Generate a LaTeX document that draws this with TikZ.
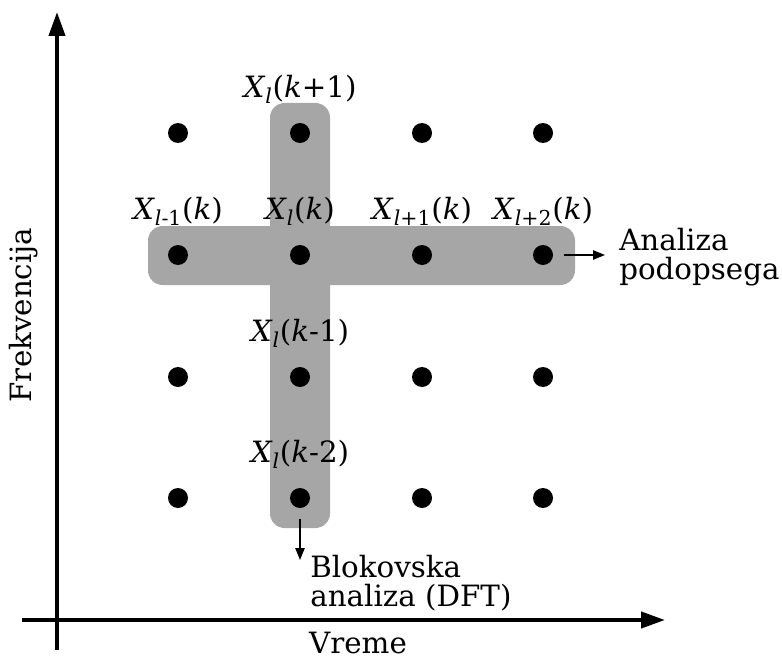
\documentclass[tikz,border=0pt]{standalone}
\usepackage{fontspec}
\setmainfont{DejaVu Serif}
\usetikzlibrary{positioning, arrows.meta, calc}

\newcommand{\Xlab}[2]{\textit{X}\textsubscript{\textit{l}#1}(\textit{k}#2)}

\begin{document}
\begin{tikzpicture}[x=0.75pt, y=-0.75pt,
  every node/.style={font=\fontsize{22}{22}\selectfont},
  dot/.style  = {circle, fill=black, inner sep=0pt, minimum size=15pt},
  lbl/.style  = {inner sep=1pt},
  note/.style = {align=left, inner sep=0pt},
  band/.style = {fill=black!35, rounded corners=11pt},
  axis/.style = {-{Triangle[length=18pt, width=12pt]}, line width=3pt},
  arr/.style  = {-{Triangle[length=9pt, width=7pt]}, line width=1.1pt},
]
  \useasboundingbox (0,0) rectangle (782,660);

  \fill[band] (148,226) rectangle (575,285);
  \fill[band] (270,103) rectangle (330,528);

  \foreach \c/\x in {1/178,2/300,3/422,4/543}
    \foreach \r/\y in {1/133,2/255,3/377,4/498}
      \node[dot] (d\c\r) at (\x,\y) {};

  \node[lbl, above=13pt of d21] (x21) {\Xlab{}{+1}};
  \node[lbl, above=13pt of d12] (x12) {\Xlab{-1}{}};
  \node[lbl, above=13pt of d22] (x22) {\Xlab{}{}};
  \node[lbl, above=13pt of d32] (x32) {\Xlab{+1}{}};
  \node[lbl, above=13pt of d42] (x42) {\Xlab{+2}{}};
  \node[lbl, above=13pt of d23] (x23) {\Xlab{}{-1}};
  \node[lbl, above=13pt of d24] (x24) {\Xlab{}{-2}};

  \node[note, anchor=west] (ana) at (619,257) {Analiza\\podopsega};
  \node[note, anchor=north west] (blk) at (310,555) {Blokovska\\analiza (DFT)};
  \coordinate (anatip) at (605,255);
  \coordinate (blktip) at (300,560);
  \draw[arr, shorten <=8pt] (d42.east) -- (anatip);
  \draw[arr, shorten <=8pt] (d24.south) -- (blktip);

  \coordinate (ybot) at (57,650);
  \coordinate (ytop) at (57,12);
  \coordinate (xleft) at (22,620);
  \coordinate (xright) at (665,620);
  \draw[axis] (ybot) -- (ytop);
  \draw[axis] (xleft) -- (xright);

  \node[anchor=base, inner sep=0pt] (vreme) at (358,653) {Vreme};
  \node[rotate=90] (frek) at (24,315) {Frekvencija};
\end{tikzpicture}
\end{document}
